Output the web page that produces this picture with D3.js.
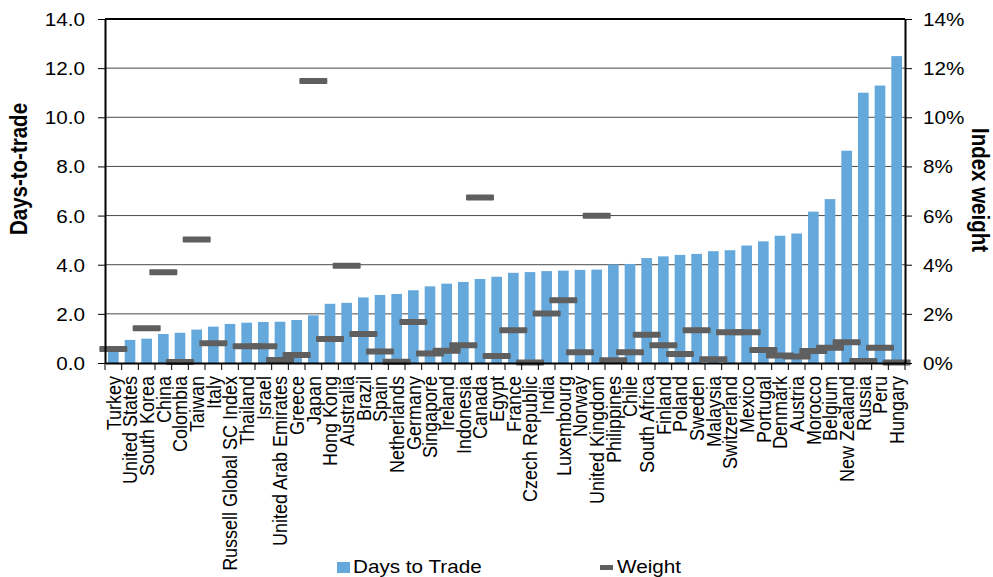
<!DOCTYPE html>
<html>
<head>
<meta charset="utf-8">
<script src="https://cdn.jsdelivr.net/npm/d3@7"></script>
<style>
  html, body { margin: 0; padding: 0; background: #fff; }
  svg { display: block; font-family: Arial, "Liberation Sans", sans-serif; }
</style>
</head>
<body>
<svg id="chart" width="993" height="577"></svg>
<script>
// Markets ordered by days-to-trade
const countries = [
  "Turkey", "United States", "South Korea", "China", "Colombia", "Taiwan", "Italy",
  "Russell Global SC Index", "Thailand", "Israel", "United Arab Emirates", "Greece",
  "Japan", "Hong Kong", "Australia", "Brazil", "Spain", "Netherlands", "Germany",
  "Singapore", "Ireland", "Indonesia", "Canada", "Egypt", "France", "Czech Republic",
  "India", "Luxembourg", "Norway", "United Kingdom", "Philippines", "Chile",
  "South Africa", "Finland", "Poland", "Sweden", "Malaysia", "Switzerland", "Mexico",
  "Portugal", "Denmark", "Austria", "Morocco", "Belgium", "New Zealand", "Russia",
  "Peru", "Hungary"
];

// Days needed to trade the position (left axis)
const daysToTrade = [
  0.62, 0.94, 0.99, 1.18, 1.23, 1.36, 1.48,
  1.59, 1.64, 1.67, 1.68, 1.75,
  1.94, 2.41, 2.45, 2.67, 2.77, 2.81, 2.96,
  3.12, 3.23, 3.30, 3.42, 3.51, 3.67, 3.70,
  3.74, 3.76, 3.79, 3.80, 4.01, 4.03,
  4.27, 4.34, 4.40, 4.44, 4.55, 4.59, 4.78,
  4.95, 5.18, 5.27, 6.16, 6.67, 8.64, 11.00,
  11.29, 12.49
];

// Index weight in percent (right axis); null where no marker is shown
const indexWeight = [
  0.57, null, 1.41, 3.69, 0.04, 5.03, 0.80,
  null, 0.68, 0.68, 0.12, 0.33,
  11.48, 0.98, 3.96, 1.18, 0.47, 0.05, 1.67,
  0.39, 0.50, 0.72, 6.74, 0.28, 1.33, 0.02,
  2.01, 2.55, 0.44, 5.99, 0.11, 0.44,
  1.15, 0.72, 0.37, 1.33, 0.15, 1.25, 1.25,
  0.53, 0.31, 0.26, 0.49, 0.62, 0.84, 0.08,
  0.62, 0.02
];

const leftTicks = [0, 2, 4, 6, 8, 10, 12, 14];
const rightTicks = [0, 2, 4, 6, 8, 10, 12, 14];
const legendLabels = ["Days to Trade", "Weight"];

const BLUE = "#64a8dc";
const GREY = "#5f5f5f";
const SX = 1.15; // horizontal glyph stretch

const svg = d3.select("#chart");
const plot = { left: 105, right: 905, top: 19, bottom: 363 };

const x = d3.scaleBand()
  .domain(countries)
  .range([plot.left, plot.right])
  .paddingInner(0.36)
  .paddingOuter(0.18);

const y = d3.scaleLinear().domain([0, 14]).range([plot.bottom, plot.top]);
const y2 = d3.scaleLinear().domain([0, 14]).range([plot.bottom, plot.top]);

// Horizontal gridlines
svg.append("g")
  .selectAll("line")
  .data(leftTicks.filter(d => d > 0 && d < 14))
  .join("line")
  .attr("x1", plot.left).attr("x2", plot.right)
  .attr("y1", d => y(d)).attr("y2", d => y(d))
  .attr("stroke", "#4a4a4a").attr("stroke-width", 1);

// Top frame line
svg.append("line")
  .attr("x1", plot.left).attr("x2", plot.right)
  .attr("y1", y(14)).attr("y2", y(14))
  .attr("stroke", "#000").attr("stroke-width", 2);

// Bars
svg.append("g")
  .selectAll("rect")
  .data(countries)
  .join("rect")
  .attr("x", d => x(d))
  .attr("width", x.bandwidth())
  .attr("y", (d, i) => y(daysToTrade[i]))
  .attr("height", (d, i) => y(0) - y(daysToTrade[i]))
  .attr("fill", BLUE);

// Weight markers
const dashW = x.step() * 1.68;
svg.append("g")
  .selectAll("rect")
  .data(countries.map((c, i) => ({ c, w: indexWeight[i] })).filter(d => d.w !== null))
  .join("rect")
  .attr("x", d => x(d.c) + x.bandwidth() / 2 - dashW / 2)
  .attr("width", dashW)
  .attr("y", d => y2(d.w) - 3)
  .attr("height", 6)
  .attr("rx", 1)
  .attr("fill", GREY);

// Left axis
const gLeft = svg.append("g")
  .attr("transform", `translate(${plot.left},0)`)
  .call(d3.axisLeft(y).tickValues(leftTicks).tickFormat(d3.format(".1f")).tickSize(7).tickSizeOuter(0));
gLeft.select(".domain").attr("stroke", "#000").attr("stroke-width", 2);
gLeft.selectAll(".tick line").attr("stroke", "#000");
gLeft.selectAll(".tick text")
  .attr("x", -20 / SX)
  .attr("dy", "0.36em")
  .attr("transform", `scale(${SX},1)`)
  .attr("font-size", 18)
  .attr("fill", "#000");

// Right axis
const gRight = svg.append("g")
  .attr("transform", `translate(${plot.right},0)`)
  .call(d3.axisRight(y2).tickValues(rightTicks).tickFormat(d => d + "%").tickSize(7).tickSizeOuter(0));
gRight.select(".domain").attr("stroke", "#000").attr("stroke-width", 2);
gRight.selectAll(".tick line").attr("stroke", "#000");
gRight.selectAll(".tick text")
  .attr("x", 18 / SX)
  .attr("dy", "0.36em")
  .attr("transform", `scale(${SX},1)`)
  .attr("font-size", 18)
  .attr("fill", "#000");

// Bottom axis with rotated category labels
const gBottom = svg.append("g")
  .attr("transform", `translate(0,${plot.bottom})`)
  .call(d3.axisBottom(x).tickSize(0).tickSizeOuter(0));
gBottom.select(".domain").attr("stroke", "#000").attr("stroke-width", 2);
gBottom.selectAll(".tick text")
  .attr("x", -13)
  .attr("y", 0)
  .attr("dy", "0.36em")
  .attr("text-anchor", "end")
  .attr("transform", `scale(${SX},1) rotate(-90)`)
  .attr("font-size", 18)
  .attr("fill", "#000");

// Tick marks at category boundaries
const bounds = countries.map(c => x(c) - (x.step() - x.bandwidth()) / 2).concat([plot.right]);
svg.append("g")
  .selectAll("line")
  .data(bounds)
  .join("line")
  .attr("x1", d => d).attr("x2", d => d)
  .attr("y1", plot.bottom).attr("y2", plot.bottom + 7)
  .attr("stroke", "#000").attr("stroke-width", 1);

// Axis titles
svg.append("text")
  .attr("transform", `translate(27,${(plot.top + plot.bottom) / 2 - 22}) scale(${SX},1) rotate(-90)`)
  .attr("text-anchor", "middle")
  .attr("font-size", 20.5)
  .attr("font-weight", "bold")
  .text("Days-to-trade");

svg.append("text")
  .attr("transform", `translate(972,${(plot.top + plot.bottom) / 2 - 1}) scale(${SX},1) rotate(90)`)
  .attr("text-anchor", "middle")
  .attr("font-size", 20.5)
  .attr("font-weight", "bold")
  .text("Index weight");

// Legend
const legend = svg.append("g");
legend.append("rect")
  .attr("x", 337).attr("y", 562).attr("width", 13).attr("height", 11)
  .attr("fill", BLUE);
legend.append("text")
  .attr("transform", `translate(353,573) scale(${SX},1)`)
  .attr("font-size", 18)
  .text(legendLabels[0]);
legend.append("rect")
  .attr("x", 600).attr("y", 565).attr("width", 13).attr("height", 5)
  .attr("fill", GREY);
legend.append("text")
  .attr("transform", `translate(617,573) scale(${SX},1)`)
  .attr("font-size", 18)
  .text(legendLabels[1]);
</script>
</body>
</html>
